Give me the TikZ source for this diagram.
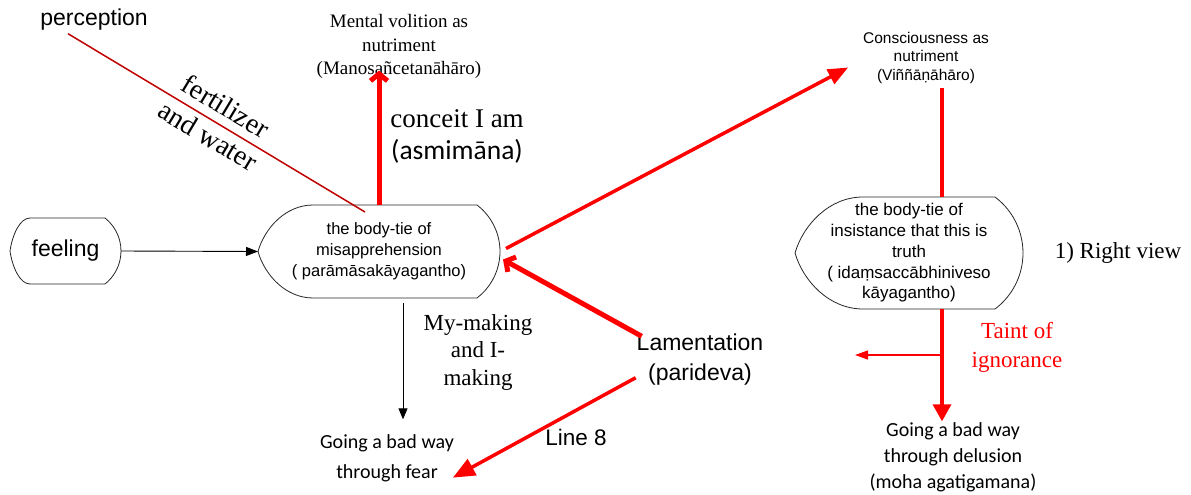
\documentclass[tikz,border=0pt]{standalone}
\usepackage{fontspec}
\setmainfont{Liberation Serif}
\newfontfamily\arialf{Liberation Sans}
\newfontfamily\calibf{Carlito}
\usetikzlibrary{arrows.meta,calc}
\definecolor{darkred}{HTML}{C00000}
\newcommand{\fs}[2]{\fontsize{#1}{#2}\selectfont}
% #1 node name, #2 left inset, #3 right inset, #4 half height
\newcommand{\dispshape}[4]{%
  \pgfmathsetmacro{\shrho}{(#3*#3+#4*#4)/(2*#3)}%
  \pgfmathsetmacro{\shalpha}{asin(#4/\shrho)}%
  \draw[shapeline]
    ($(#1.north west)+(#2,0)$)
    -- ($(#1.north east)+(-#3,0)$)
    arc[start angle=-\shalpha, end angle=\shalpha, radius=\shrho]
    -- ($(#1.south west)+(#2,0)$)
    .. controls ($(#1.south west)+(0.5*#2,0)$) and ($($(#1.west)!0.5!(#1.south west)$)+(0.12*#2,0)$) .. (#1.west)
    .. controls ($($(#1.west)!0.5!(#1.north west)$)+(0.12*#2,0)$) and ($(#1.north west)+(0.5*#2,0)$) .. cycle;}
\begin{document}
\begin{tikzpicture}[x=1pt,y=-1pt,
  txt/.style={inner sep=0pt, outer sep=0pt, align=center},
  shapebox/.style={inner sep=0pt, outer sep=0pt, align=center},
  shapeline/.style={draw=black!85, line width=0.8pt},
  blkarrow/.style={draw=black, line width=0.9pt, -{Triangle[length=12pt,width=9pt]}},
  redbarb/.style={draw=red, line width=5pt, -{Straight Barb[length=7pt,width=17pt]}},
  redtri/.style={draw=red, line width=3.5pt},
]
\fill[white] (0,0) rectangle (1191,495);
\useasboundingbox (0,0) rectangle (1191,495);

% text nodes
\node[txt, font=\arialf\fs{23}{28}] (perc) at (94,20) {perception};
\node[txt, font=\fs{19}{23.5}] (ment) at (399,46.5) {Mental volition as\\nutriment\\(Manosañcetanāhāro)};
\node[txt, font=\arialf\fs{15.5}{18.5}] (cons) at (926,57.5) {Consciousness as\\nutriment\\(Viññāṇāhāro)};
\node[txt, font=\fs{27}{32}] (conc) at (457,136) {conceit I am\\{\calibf\fs{27.5}{32}(asmimāna)}};
\node[txt, font=\fs{28}{34}, rotate=-31] (fert) at (217,121) {fertilizer\\and water};
\node[txt, font=\fs{23}{28}] (rv) at (1118,253) {1) Right view};
\node[txt, text=red, font=\fs{23}{29}] (taint) at (1017,347) {Taint of\\ignorance};
\node[txt, font=\fs{23}{27.5}] (my) at (478,352) {My-making\\and I-\\making};
\node[txt, font=\arialf\fs{23}{30}] (lam) at (700,360) {Lamentation\\(parideva)};
\node[txt, font=\arialf\fs{22.5}{27}] (l8) at (576,437) {Line 8};
\node[txt, font=\calibf\fs{20}{30}] (fear) at (387,458) {Going a bad way\\through fear};
\node[txt, font=\calibf\fs{20}{26}] (del) at (953,457) {Going a bad way\\through delusion\\(moha agatigamana)};

% shaped nodes
\node[shapebox, minimum width=111pt, minimum height=66pt, font=\arialf\fs{23}{28}] (feel) at (65.5,251) {feeling};
\node[shapebox, minimum width=242pt, minimum height=93pt, font=\arialf\fs{16.5}{21}] (m) at (379,251.5) {the body-tie of\\misapprehension\\( parāmāsakāyagantho)};
\node[shapebox, minimum width=228pt, minimum height=112pt, font=\arialf\fs{17}{20.7}] (r) at (909,253) {the body-tie of\\insistance that this is\\truth\\( idaṃsaccābhiniveso\\kāyagantho)};
\dispshape{feel}{20}{16}{33}
\dispshape{m}{55}{23}{46.5}
\dispshape{r}{68}{28}{56}

% connectors
\draw[darkred, line width=1.5pt] ($(perc.south)+(-26,3)$) -- ($(m.north)+(-14,7)$);
\draw[blkarrow] (feel.east) -- (m.west);
\draw[redbarb] (m.north) -- ($(m.north |- ment.south)+(0,-8)$);
\draw[redbarb] ($(lam.north west)+(5,2)$) -- ($(m.east)+(3,8)$);
\draw[redtri, -{Triangle[length=20pt,width=16pt]}] ($(m.east)+(6,-3)$) -- ($(cons.west)+(-15,10)$);
\draw[redtri, -{Triangle[length=22pt,width=18pt]}] ($(lam.south west)+(-1,-8)$) -- ($(fear.south east)+(-1,-4)$);
\draw[blkarrow, -{Triangle[length=11pt,width=9pt]}] ($(m.south)+(24,5)$) -- ($(fear.north)+(16,-15)$);
\coordinate (vx) at ($(r.north)+(33,0)$);
\draw[redtri] ($(cons.south -| vx)+(0,5)$) -- (r.north -| vx);
\draw[redtri, -{Triangle[length=17pt,width=18pt]}] (r.south -| vx) -- ($(del.north -| vx)+(0,-1)$);
\coordinate (br) at ($(r.south -| vx)+(0,46)$);
\coordinate (le) at ($(br)+(-87,0)$);
\draw[red, line width=1.2pt, -{Triangle[length=13pt,width=9pt]}] (br) -- (le);
\end{tikzpicture}
\end{document}
